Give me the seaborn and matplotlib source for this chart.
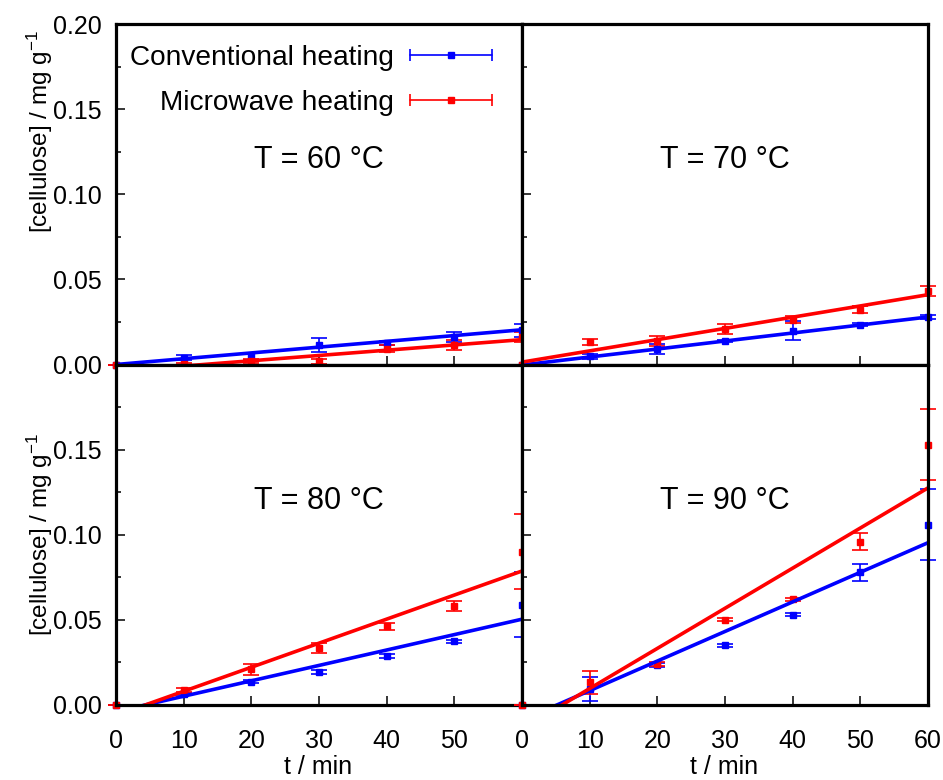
import numpy as np
import pandas as pd
import matplotlib
matplotlib.use("Agg")
import matplotlib.pyplot as plt
import seaborn as sns
from matplotlib.lines import Line2D
from matplotlib.legend_handler import HandlerLine2D, HandlerTuple
from matplotlib.ticker import MultipleLocator

# ---------------- data ----------------
t = [0, 10, 20, 30, 40, 50, 60]
temps = ["60", "70", "80", "90"]

conv_60 = [0, 0.0040, 0.0047, 0.0116, 0.0126, 0.0160, 0.0200]
conv_60_err = [0, 0.0015, 0.0020, 0.0040, 0.0010, 0.0030, 0.0040]
mw_60 = [0, 0.0005, 0.0020, 0.0020, 0.0092, 0.0116, 0.0160]
mw_60_err = [0, 0.0005, 0.0010, 0.0015, 0.0020, 0.0030, 0.0030]

conv_70 = [0, 0.0047, 0.0092, 0.0140, 0.0199, 0.0234, 0.0280]
conv_70_err = [0, 0.0015, 0.0030, 0.0005, 0.0056, 0.0008, 0.0010]
mw_70 = [0, 0.0134, 0.0140, 0.0210, 0.0264, 0.0322, 0.0430]
mw_70_err = [0, 0.0018, 0.0030, 0.0030, 0.0020, 0.0020, 0.0030]

conv_80 = [0, 0.0064, 0.0137, 0.0193, 0.0287, 0.0375, 0.0590]
conv_80_err = [0, 0.0008, 0.0010, 0.0010, 0.0010, 0.0008, 0.0190]
mw_80 = [0, 0.0088, 0.0209, 0.0336, 0.0463, 0.0580, 0.0900]
mw_80_err = [0, 0.0010, 0.0030, 0.0030, 0.0020, 0.0030, 0.0220]

conv_90 = [0, 0.0094, 0.0235, 0.0351, 0.0531, 0.0779, 0.1060]
conv_90_err = [0, 0.0070, 0.0010, 0.0010, 0.0010, 0.0050, 0.0210]
mw_90 = [0, 0.0133, 0.0240, 0.0502, 0.0621, 0.0959, 0.1530]
mw_90_err = [0, 0.0068, 0.0010, 0.0010, 0.0010, 0.0050, 0.0210]

# linear fits: slope (mg g^-1 min^-1), intercept (mg g^-1)
conv_slope = [0.00034, 0.00047, 0.000905, 0.001738]
conv_intercept = [0.0000, -0.0003, -0.0039, -0.00895]
mw_slope = [0.00031, 0.00066, 0.001413, 0.002357]
mw_intercept = [-0.0040, 0.0014, -0.00608, -0.0139]

conv_vals = [conv_60, conv_70, conv_80, conv_90]
conv_errs = [conv_60_err, conv_70_err, conv_80_err, conv_90_err]
mw_vals = [mw_60, mw_70, mw_80, mw_90]
mw_errs = [mw_60_err, mw_70_err, mw_80_err, mw_90_err]

x_ticks = [0, 10, 20, 30, 40, 50, 60]
y_ticks = [0.00, 0.05, 0.10, 0.15, 0.20]

# ---------------- style ----------------
sns.set_theme(style="ticks")
plt.rcParams["font.family"] = ["Liberation Sans", "DejaVu Sans"]
plt.rcParams["mathtext.fontset"] = "custom"
plt.rcParams["mathtext.rm"] = "Liberation Sans"
plt.rcParams["mathtext.it"] = "Liberation Sans"
for key in ["text.color", "axes.labelcolor", "xtick.color", "ytick.color",
            "xtick.labelcolor", "ytick.labelcolor", "axes.edgecolor"]:
    plt.rcParams[key] = "black"

BLUE = "#0000ff"
RED = "#ff0000"

fig, axes = plt.subplots(2, 2, figsize=(9.43, 7.8), dpi=100, sharex=False, sharey=False)
fig.subplots_adjust(left=116 / 943, right=928 / 943, top=1 - 24 / 780,
                    bottom=1 - 705 / 780, wspace=0, hspace=0)

t_line = np.linspace(0, 60, 200)

for i, ax in enumerate(axes.flat):
    for vals, errs, slope, inter, col in [
        (conv_vals[i], conv_errs[i], conv_slope[i], conv_intercept[i], BLUE),
        (mw_vals[i], mw_errs[i], mw_slope[i], mw_intercept[i], RED),
    ]:
        ax.errorbar(t, vals, yerr=errs, fmt="s", color=col, markersize=3.8,
                    elinewidth=1.2, capsize=6.0, capthick=1.2, clip_on=False, zorder=3)
        fit = pd.DataFrame({"t": t_line, "y": slope * t_line + inter})
        sns.lineplot(data=fit, x="t", y="y", ax=ax, color=col, linewidth=2.6, zorder=4)

    ax.set_xlim(0, 60)
    ax.set_ylim(0, 0.20)
    ax.set_xlabel("")
    ax.set_ylabel("")
    ax.set_xticks(x_ticks)
    ax.set_yticks(y_ticks)
    ax.yaxis.set_minor_locator(MultipleLocator(0.025))
    ax.tick_params(which="major", direction="in", length=6.5, width=1.1,
                   labelsize=18, top=False, right=False, colors="black")
    ax.tick_params(which="minor", direction="in", length=3.5, width=1.1,
                   top=False, right=False, colors="black")
    ax.tick_params(axis="x", pad=17)
    ax.tick_params(axis="y", pad=10)
    for sp in ax.spines.values():
        sp.set_visible(True)
        sp.set_linewidth(2.3)
        sp.set_color("black")
        sp.set_zorder(5)
    ax.text(0.5, 0.6, f"T = {temps[i]} °C", transform=ax.transAxes,
            ha="center", va="center", fontsize=22, color="black")

ax_tl, ax_tr, ax_bl, ax_br = axes.flat
ax_tl.set_xticklabels([])
ax_tr.set_xticklabels([])
ax_tr.set_yticklabels([])
ax_br.set_yticklabels([])
ax_tl.set_yticklabels([f"{v:.2f}" for v in y_ticks])
ax_bl.set_yticklabels([f"{v:.2f}" for v in y_ticks[:-1]] + [""])
ax_bl.set_xticklabels([str(v) for v in x_ticks[:-1]] + [""])
ax_br.set_xticklabels([str(v) for v in x_ticks])

# axis labels
ylab = "[cellulose] / mg g$^{-1}$"
fig.text(40 / 943, 1 - 132 / 780, ylab, rotation=90, ha="center", va="center",
         fontsize=17.5, color="black")
fig.text(40 / 943, 1 - 535 / 780, ylab, rotation=90, ha="center", va="center",
         fontsize=17.5, color="black")
fig.text(318 / 943, 1 - 767 / 780, "t / min", ha="center", va="center",
         fontsize=18, color="black")
fig.text(724 / 943, 1 - 767 / 780, "t / min", ha="center", va="center",
         fontsize=18, color="black")

# legend (gnuplot-style key: horizontal bar with end caps and a square in the middle)
def make_handle(col):
    cap = Line2D([], [], color=col, linewidth=1.2, marker="|", markersize=9,
                 markeredgewidth=1.2)
    sq = Line2D([], [], color=col, linestyle="none", marker="s", markersize=3.8)
    return (cap, sq), cap, sq

h_conv, cap_c, sq_c = make_handle(BLUE)
h_mw, cap_m, sq_m = make_handle(RED)
leg = ax_tl.legend([h_conv, h_mw], ["Conventional heating", "Microwave heating"],
                   handler_map={h_conv: HandlerTuple(ndivide=1, pad=0),
                                h_mw: HandlerTuple(ndivide=1, pad=0),
                                cap_c: HandlerLine2D(numpoints=2, marker_pad=0),
                                cap_m: HandlerLine2D(numpoints=2, marker_pad=0),
                                sq_c: HandlerLine2D(numpoints=1),
                                sq_m: HandlerLine2D(numpoints=1)},
                   loc="upper right", bbox_to_anchor=((490 - 116) / 404, (363 - 45) / 339),
                   markerfirst=False, frameon=False, fontsize=20.2,
                   handlelength=2.9, handletextpad=0.6, borderpad=0, borderaxespad=0,
                   labelspacing=0.67)
for txt in leg.get_texts():
    txt.set_color("black")

fig.savefig("out.png", dpi=100)
